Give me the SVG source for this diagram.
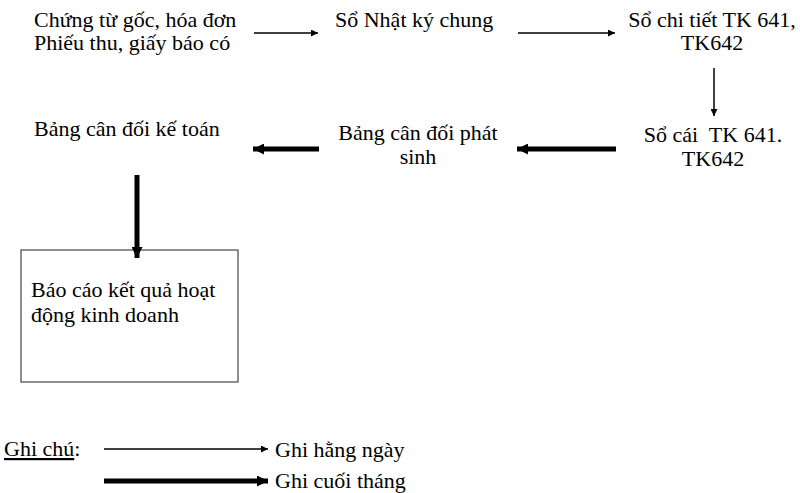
<svg xmlns="http://www.w3.org/2000/svg" width="800" height="493" viewBox="0 0 800 493">
<style>
.c{text-anchor:middle}
.thin{stroke:#000;stroke-width:1.5;fill:none}
.thick{stroke:#000;stroke-width:5;fill:none}
</style>
<defs>
<marker id="ah" viewBox="0 0 10 10" refX="10" refY="5" markerWidth="9" markerHeight="7" markerUnits="userSpaceOnUse" orient="auto"><path d="M0,0L10,5L0,10z"/></marker>
<marker id="ahb" viewBox="0 0 10 10" refX="10" refY="5" markerWidth="12" markerHeight="11" markerUnits="userSpaceOnUse" orient="auto"><path d="M0,0L10,5L0,10z"/></marker>
</defs>
<rect width="800" height="493" fill="#fff"/>
<g font-family="Liberation Serif" font-size="22" fill="#000">
<g id="n1"><text x="34" y="27">Chứng từ gốc, hóa đơn</text><text x="34" y="50">Phiếu thu, giấy báo có</text></g>
<g id="n2"><text x="335" y="27">Sổ Nhật ký chung</text></g>
<g id="n3"><text class="c" x="712" y="27">Sổ chi tiết TK 641,</text><text class="c" x="712" y="50">TK642</text></g>
<g id="n4"><text class="c" x="713" y="142" xml:space="preserve">Sổ cái  TK 641.</text><text class="c" x="713" y="166">TK642</text></g>
<g id="n5"><text class="c" x="418" y="140">Bảng cân đối phát</text><text class="c" x="418" y="164">sinh</text></g>
<g id="n6"><text x="34" y="136">Bảng cân đối kế toán</text></g>
<g id="n7"><rect x="21" y="250" width="217" height="132" fill="#fff" stroke="#444" stroke-width="1.2"/><text x="31" y="297">Báo cáo kết quả hoạt</text><text x="31" y="322">động kinh doanh</text></g>
<g id="legend">
<text x="4" y="456"><tspan text-decoration="underline">Ghi chú</tspan>:</text>
<text x="275" y="457">Ghi hằng ngày</text>
<text x="275" y="488">Ghi cuối tháng</text>
</g>
</g>
<g id="connectors">
<line class="thin" x1="254" y1="33" x2="318" y2="33" marker-end="url(#ah)"/>
<line class="thin" x1="518" y1="33" x2="615" y2="33" marker-end="url(#ah)"/>
<line class="thin" x1="714" y1="68" x2="714" y2="116" marker-end="url(#ah)"/>
<line class="thick" x1="616" y1="149" x2="517" y2="149" marker-end="url(#ahb)"/>
<line class="thick" x1="319" y1="149" x2="253" y2="149" marker-end="url(#ahb)"/>
<line class="thick" x1="137" y1="175" x2="137" y2="258" marker-end="url(#ahb)"/>
<line class="thin" x1="104" y1="449" x2="268" y2="449" marker-end="url(#ah)"/>
<line class="thick" x1="104" y1="481" x2="268" y2="481" marker-end="url(#ahb)"/>
</g>
</svg>
